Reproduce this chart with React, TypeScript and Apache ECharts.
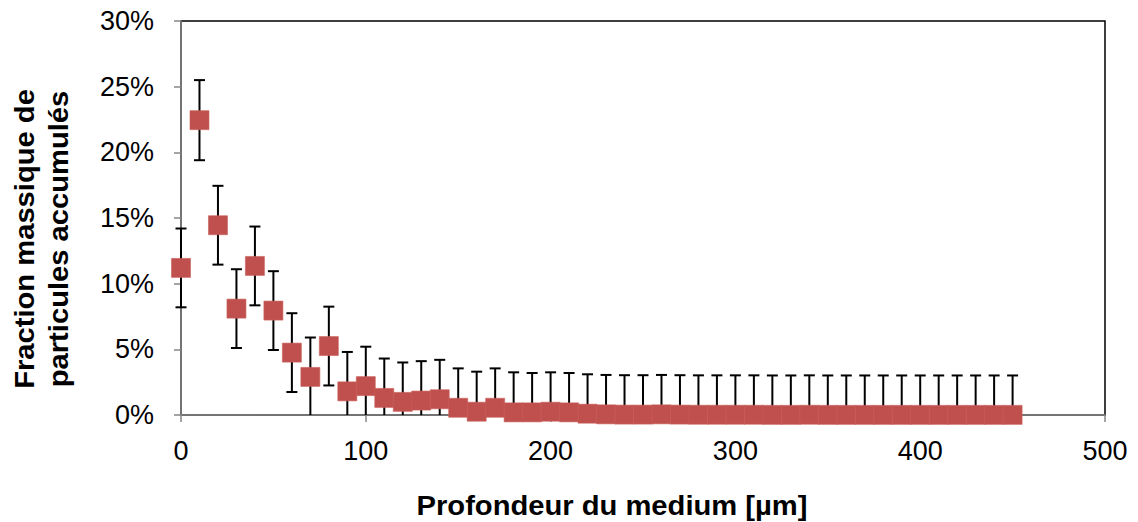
import React, { useEffect, useRef } from "react";
import * as echarts from "echarts";

const depths = [0, 10, 20, 30, 40, 50, 60, 70, 80, 90, 100, 110, 120, 130, 140, 150, 160, 170, 180, 190, 200, 210, 220, 230, 240, 250, 260, 270, 280, 290, 300, 310, 320, 330, 340, 350, 360, 370, 380, 390, 400, 410, 420, 430, 440, 450];
const fractions = [11.2, 22.45, 14.45, 8.1, 11.35, 7.95, 4.75, 2.9, 5.25, 1.8, 2.2, 1.3, 1.0, 1.1, 1.2, 0.55, 0.25, 0.55, 0.2, 0.2, 0.25, 0.2, 0.1, 0.05, 0.03, 0.03, 0.05, 0.03, 0.02, 0.02, 0.02, 0.02, 0.01, 0.01, 0.02, 0.01, 0.01, 0.01, 0.01, 0.01, 0.01, 0.01, 0.01, 0.01, 0.01, 0.01];
const errors = [3.0, 3.05, 3.0, 3.0, 3.0, 3.0, 3.0, 3.0, 3.0, 3.0, 3.0, 3.0, 3.0, 3.0, 3.0, 3.0, 3.05, 3.0, 3.05, 3.0, 3.0, 3.0, 3.0, 3.0, 3.0, 3.0, 3.0, 3.0, 3.0, 3.0, 3.0, 3.0, 3.0, 3.0, 3.0, 3.0, 3.0, 3.0, 3.0, 3.0, 3.0, 3.0, 3.0, 3.0, 3.0, 3.0];
const xTitle = "Profondeur du medium [µm]";
const yTitle = "Fraction massique de\nparticules accumulés";

const FONT = "'Liberation Sans', Arial, sans-serif";

export default function App() {
  const ref = useRef<HTMLDivElement>(null);
  useEffect(() => {
    document.body.style.margin = "0";
    const chart = echarts.init(ref.current!, null, { renderer: "svg" });
    const pts = depths.map((d, i) => [d, fractions[i], errors[i]]);
    chart.setOption({
      animation: false,
      backgroundColor: "#fff",
      grid: { left: 181, right: 33, top: 21, bottom: 107, show: true, borderColor: "#000", borderWidth: 1.5, backgroundColor: "transparent" },
      xAxis: {
        type: "value", min: 0, max: 500, interval: 100,
        axisLine: { show: true, lineStyle: { color: "#868686", width: 1.5 } },
        axisTick: { show: true, inside: false, length: 7, lineStyle: { color: "#868686", width: 1.5 } },
        axisLabel: { fontFamily: FONT, fontSize: 27, color: "#000", margin: 22 },
        splitLine: { show: false },
      },
      yAxis: {
        type: "value", min: 0, max: 30, interval: 5,
        axisLine: { show: true, lineStyle: { color: "#868686", width: 1.5 } },
        axisTick: { show: true, inside: false, length: 7, lineStyle: { color: "#868686", width: 1.5 } },
        axisLabel: { fontFamily: FONT, fontSize: 27, color: "#000", margin: 27, formatter: "{value}%" },
        splitLine: { show: false },
      },
      graphic: [
        { type: "text", x: 612, y: 506, scaleX: 1.08, style: { text: xTitle, font: `bold 27px ${FONT}`, fill: "#000", textAlign: "center", textVerticalAlign: "middle" } },
        { type: "text", x: 42, y: 239, rotation: Math.PI / 2, scaleX: 1.08, style: { text: yTitle, font: `bold 27px ${FONT}`, fill: "#000", textAlign: "center", textVerticalAlign: "middle", lineHeight: 34 } },
      ],
      series: [
        {
          type: "custom",
          z: 2,
          data: pts,
          clip: false,
          renderItem: (params: any, api: any) => {
            const x = api.value(0), v = api.value(1), e = api.value(2);
            const top = api.coord([x, v + e]);
            const lowV = v - e;
            const bot = api.coord([x, Math.max(0, lowV)]);
            const cap = 5.5;
            const style = { stroke: "#000", lineWidth: 2 };
            const children: any[] = [
              { type: "line", shape: { x1: top[0], y1: top[1], x2: bot[0], y2: bot[1] }, style },
              { type: "line", shape: { x1: top[0] - cap, y1: top[1], x2: top[0] + cap, y2: top[1] }, style },
            ];
            if (lowV > 0) {
              children.push({ type: "line", shape: { x1: bot[0] - cap, y1: bot[1], x2: bot[0] + cap, y2: bot[1] }, style });
            }
            return { type: "group", children };
          },
        },
        {
          type: "scatter",
          z: 3,
          data: pts.map((p) => [p[0], p[1]]),
          symbol: "rect",
          symbolSize: 19,
          itemStyle: { color: "#C0504D", borderColor: "#C95F5B", borderWidth: 0.6, opacity: 1 },
        },
      ],
    });
    return () => chart.dispose();
  }, []);
  return <div ref={ref} style={{ width: 1138, height: 522 }} />;
}
